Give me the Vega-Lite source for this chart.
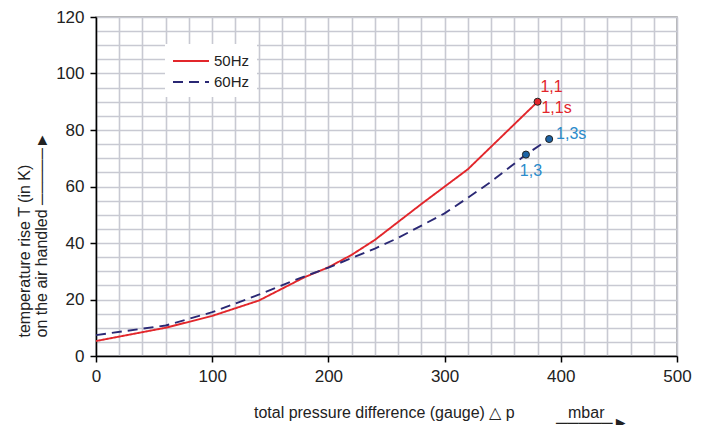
{
  "$schema": "https://vega.github.io/schema/vega-lite/v6.json",
  "width": 581,
  "height": 339,
  "autosize": {"type": "none"},
  "padding": {"left": 96, "top": 17, "right": 38, "bottom": 69},
  "background": "white",
  "config": {
    "font": "Liberation Sans",
    "view": {"stroke": "#9a9a9a", "strokeWidth": 1.5}
  },
  "datasets": {
    "curves": [
      {"series": "50Hz", "dp": 0, "T": 5.3},
      {"series": "50Hz", "dp": 60, "T": 10.0},
      {"series": "50Hz", "dp": 100, "T": 14.2},
      {"series": "50Hz", "dp": 140, "T": 19.6},
      {"series": "50Hz", "dp": 180, "T": 28.0},
      {"series": "50Hz", "dp": 200, "T": 31.4},
      {"series": "50Hz", "dp": 220, "T": 35.8},
      {"series": "50Hz", "dp": 240, "T": 41.1},
      {"series": "50Hz", "dp": 280, "T": 53.8},
      {"series": "50Hz", "dp": 320, "T": 66.1},
      {"series": "50Hz", "dp": 380, "T": 90.0},
      {"series": "60Hz", "dp": 0, "T": 7.4},
      {"series": "60Hz", "dp": 60, "T": 10.8},
      {"series": "60Hz", "dp": 100, "T": 15.5},
      {"series": "60Hz", "dp": 140, "T": 21.7},
      {"series": "60Hz", "dp": 175, "T": 27.5},
      {"series": "60Hz", "dp": 200, "T": 31.3},
      {"series": "60Hz", "dp": 240, "T": 38.0},
      {"series": "60Hz", "dp": 260, "T": 41.8},
      {"series": "60Hz", "dp": 300, "T": 50.5},
      {"series": "60Hz", "dp": 320, "T": 56.0},
      {"series": "60Hz", "dp": 340, "T": 61.7},
      {"series": "60Hz", "dp": 370, "T": 71.3},
      {"series": "60Hz", "dp": 390, "T": 76.8}
    ],
    "points": [
      {"series": "50Hz", "dp": 380, "T": 90.0},
      {"series": "60Hz", "dp": 370, "T": 71.3},
      {"series": "60Hz", "dp": 390, "T": 76.8}
    ],
    "labels": [
      {"label": "1,1", "dp": 380, "T": 90.0},
      {"label": "1,1s", "dp": 380, "T": 90.0},
      {"label": "1,3", "dp": 370, "T": 71.3},
      {"label": "1,3s", "dp": 390, "T": 76.8}
    ]
  },
  "layer": [
    {
      "data": {"name": "curves"},
      "mark": {"type": "line", "strokeWidth": 1.9},
      "encoding": {
        "x": {
          "field": "dp", "type": "quantitative",
          "scale": {"domain": [0, 500], "nice": false, "zero": false},
          "axis": {
            "values": [0,20,40,60,80,100,120,140,160,180,200,220,240,260,280,300,320,340,360,380,400,420,440,460,480,500],
            "tickCount": 200, "format": "d",
            "labelExpr": "datum.value % 100 == 0 ? datum.label : ''",
            "labelOverlap": false, "labelBound": false,
            "tickOpacity": {"condition": {"test": "datum.value % 100 != 0", "value": 0}, "value": 1},
            "grid": true, "gridColor": "#c8c9d2", "gridWidth": 1.6,
            "domainColor": "#000000", "domainWidth": 1.5,
            "tickColor": "#000000", "tickSize": 6, "tickWidth": 1.5,
            "labelFontSize": 17, "labelColor": "#222222", "labelPadding": 6,
            "labelFlush": false,
            "title": ["total pressure difference (gauge) △ p\u00a0\u00a0\u00a0\u00a0\u00a0\u00a0\u00a0\u00a0\u00a0\u00a0\u00a0\u00a0mbar\u2800\u2800", "─────►"],
            "titleFontSize": 16, "titleFontWeight": "normal", "titleColor": "#222222",
            "titleAlign": "right", "titleAnchor": null, "titleBaseline": "alphabetic",
            "titleX": 532, "titleY": 61, "titleLineHeight": 10
          }
        },
        "y": {
          "field": "T", "type": "quantitative",
          "scale": {"domain": [0, 120], "nice": false},
          "axis": {
            "values": [0,5,10,15,20,25,30,35,40,45,50,55,60,65,70,75,80,85,90,95,100,105,110,115,120],
            "tickCount": 200, "format": "d",
            "labelExpr": "datum.value % 20 == 0 ? datum.label : ''",
            "labelOverlap": false, "labelBound": false,
            "tickOpacity": {"condition": {"test": "datum.value % 20 != 0", "value": 0}, "value": 1},
            "grid": true, "gridColor": "#c8c9d2", "gridWidth": 1.6,
            "domainColor": "#000000", "domainWidth": 1.5,
            "tickColor": "#000000", "tickSize": 6, "tickWidth": 1.5,
            "labelFontSize": 17, "labelColor": "#222222", "labelPadding": 6,
            "labelFlush": false,
            "title": ["temperature rise T (in K)", "on the air handled\u00a0─────►"],
            "titleFontSize": 16, "titleFontWeight": "normal", "titleColor": "#222222",
            "titleAngle": 270, "titleAlign": "left", "titleAnchor": null, "titleBaseline": "alphabetic",
            "titleX": -67, "titleY": 320, "titleLineHeight": 17
          }
        },
        "color": {
          "field": "series", "type": "nominal",
          "scale": {"domain": ["50Hz", "60Hz"], "range": ["#e2262b", "#2a2874"]},
          "legend": {
            "title": null, "orient": "none", "legendX": 69, "legendY": 27,
            "fillColor": "white", "padding": 7,
            "symbolType": "M-2,0H2", "symbolSize": 324, "symbolStrokeWidth": 2,
            "labelOffset": 13, "symbolOffset": 9,
            "labelFontSize": 15, "labelColor": "#222222", "rowPadding": 3
          }
        },
        "strokeDash": {
          "field": "series", "type": "nominal",
          "scale": {"domain": ["50Hz", "60Hz"], "range": [[1, 0], [10, 6]]},
          "legend": null
        }
      }
    },
    {
      "data": {"name": "points"},
      "mark": {"type": "point", "filled": true, "size": 50, "stroke": "#222222", "strokeWidth": 1, "opacity": 1},
      "encoding": {
        "x": {"field": "dp", "type": "quantitative"},
        "y": {"field": "T", "type": "quantitative"},
        "fill": {
          "field": "series", "type": "nominal",
          "scale": {"domain": ["50Hz", "60Hz"], "range": ["#e2262b", "#1d64a6"]},
          "legend": null
        }
      }
    },
    {
      "data": {"name": "labels"},
      "transform": [{"filter": "datum.label == '1,1'"}],
      "mark": {"type": "text", "fontSize": 16, "color": "#e2262b", "dx": 14, "dy": -15, "align": "center", "baseline": "middle"},
      "encoding": {
        "x": {"field": "dp", "type": "quantitative"},
        "y": {"field": "T", "type": "quantitative"},
        "text": {"field": "label"}
      }
    },
    {
      "data": {"name": "labels"},
      "transform": [{"filter": "datum.label == '1,1s'"}],
      "mark": {"type": "text", "fontSize": 16, "color": "#e2262b", "dx": 19, "dy": 6, "align": "center", "baseline": "middle"},
      "encoding": {
        "x": {"field": "dp", "type": "quantitative"},
        "y": {"field": "T", "type": "quantitative"},
        "text": {"field": "label"}
      }
    },
    {
      "data": {"name": "labels"},
      "transform": [{"filter": "datum.label == '1,3'"}],
      "mark": {"type": "text", "fontSize": 16, "color": "#2a8bcb", "dx": 5, "dy": 16, "align": "center", "baseline": "middle"},
      "encoding": {
        "x": {"field": "dp", "type": "quantitative"},
        "y": {"field": "T", "type": "quantitative"},
        "text": {"field": "label"}
      }
    },
    {
      "data": {"name": "labels"},
      "transform": [{"filter": "datum.label == '1,3s'"}],
      "mark": {"type": "text", "fontSize": 16, "color": "#2a8bcb", "dx": 22, "dy": -5, "align": "center", "baseline": "middle"},
      "encoding": {
        "x": {"field": "dp", "type": "quantitative"},
        "y": {"field": "T", "type": "quantitative"},
        "text": {"field": "label"}
      }
    }
  ]
}
